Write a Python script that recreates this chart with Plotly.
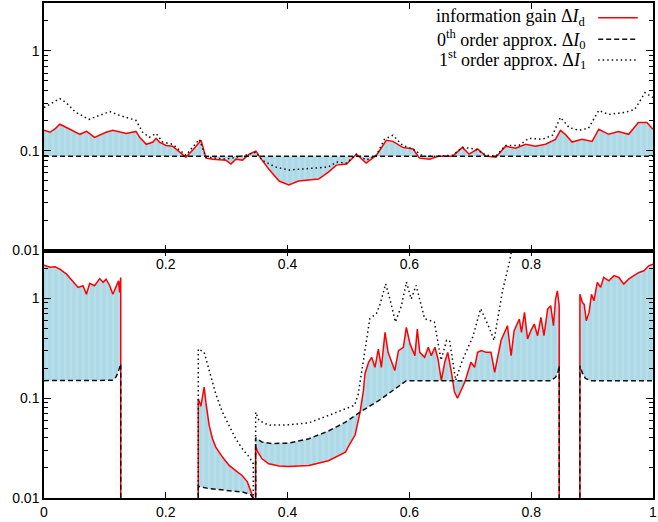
import plotly.graph_objects as go

# ---------------- data ----------------
FLOOR = 1e-4  # value treated as zero (drops below log axis)

# top panel
top_red_x = [0, 0.0098, 0.018, 0.026, 0.0425, 0.059, 0.070, 0.083, 0.102, 0.113, 0.135,
             0.151, 0.157, 0.168, 0.179, 0.184, 0.1895, 0.2005, 0.211, 0.233, 0.244,
             0.258, 0.266, 0.277, 0.2985, 0.307, 0.315, 0.326, 0.337, 0.348, 0.358,
             0.369, 0.386, 0.402, 0.418, 0.435, 0.451, 0.467, 0.480, 0.497, 0.513,
             0.529, 0.546, 0.562, 0.573, 0.589, 0.606, 0.6165, 0.633, 0.649, 0.671,
             0.687, 0.698, 0.712, 0.7255, 0.742, 0.758, 0.7745, 0.791, 0.807, 0.8235,
             0.840, 0.848, 0.856, 0.867, 0.8835, 0.900, 0.911, 0.927, 0.943, 0.96,
             0.976, 0.99, 1.0]
top_red_y = [0.160, 0.153, 0.165, 0.184, 0.164, 0.146, 0.156, 0.136, 0.153, 0.160, 0.149,
             0.156, 0.136, 0.116, 0.122, 0.133, 0.122, 0.113, 0.111, 0.0862, 0.101,
             0.127, 0.0842, 0.0823, 0.0804, 0.0734, 0.0823, 0.0804, 0.0923, 0.0989, 0.0804,
             0.0655, 0.0497, 0.0454, 0.0497, 0.0508, 0.0520, 0.0611, 0.0717, 0.0734, 0.0923,
             0.0751, 0.0902, 0.127, 0.124, 0.108, 0.104, 0.0842, 0.0823, 0.0882, 0.0882,
             0.108, 0.0923, 0.104, 0.0882, 0.0862, 0.111, 0.106, 0.116, 0.111, 0.116,
             0.130, 0.160, 0.146, 0.122, 0.130, 0.124, 0.164, 0.146, 0.156, 0.146,
             0.192, 0.192, 0.164]
top_dot_x = [0, 0.026, 0.036, 0.0523, 0.074, 0.0915, 0.108, 0.124, 0.146, 0.151,
             0.162, 0.173, 0.184, 0.195, 0.211, 0.233, 0.255, 0.266, 0.2985, 0.309,
             0.331, 0.348, 0.358, 0.380, 0.402, 0.429, 0.467, 0.480, 0.497, 0.513,
             0.529, 0.546, 0.559, 0.573, 0.589, 0.606, 0.622, 0.644, 0.671, 0.687,
             0.709, 0.7255, 0.742, 0.758, 0.780, 0.796, 0.818, 0.835, 0.848, 0.862,
             0.878, 0.894, 0.911, 0.927, 0.954, 0.970, 0.987, 1.0]
top_dot_y = [0.271, 0.333, 0.304, 0.242, 0.206, 0.226, 0.247, 0.226, 0.206, 0.201,
             0.153, 0.136, 0.149, 0.122, 0.116, 0.0902, 0.130, 0.0862, 0.0823, 0.0842,
             0.0902, 0.0966, 0.0804, 0.0686, 0.0640, 0.0655, 0.0686, 0.0769, 0.0751, 0.0923,
             0.0804, 0.0902, 0.130, 0.143, 0.113, 0.104, 0.0882, 0.0882, 0.0902, 0.108,
             0.104, 0.0902, 0.0882, 0.113, 0.113, 0.133, 0.130, 0.143, 0.216, 0.171,
             0.160, 0.168, 0.253, 0.231, 0.242, 0.259, 0.382, 0.340]
top_dash_x = [0, 1]
top_dash_y = [0.088, 0.088]

# bottom panel, segment A
bA_red_x = [0, 0.0098, 0.018, 0.026, 0.037, 0.048, 0.056, 0.064, 0.0697, 0.075, 0.083,
            0.0915, 0.097, 0.102, 0.108, 0.113, 0.119, 0.1225, 0.124, 0.126, 0.126]
bA_red_y = [2.15, 2.05, 2.08, 1.96, 1.75, 1.47, 1.29, 1.34, 1.10, 1.42, 1.34,
            1.58, 1.45, 1.56, 1.34, 1.10, 1.34, 1.50, 1.15, 1.62, FLOOR]
bA_dash_x = [0, 0.112, 0.116, 0.119, 0.1225, 0.126, 0.126]
bA_dash_y = [0.150, 0.151, 0.156, 0.166, 0.189, 0.22, FLOOR]

# segment B
bB_red_x = [0.2533, 0.2533, 0.2576, 0.263, 0.2658, 0.2712, 0.2767, 0.2821, 0.293,
            0.304, 0.3148, 0.3257, 0.3339, 0.3393, 0.3437, 0.3437]
bB_red_y = [FLOOR, 0.0985, 0.0832, 0.129, 0.0912, 0.0533, 0.0392, 0.0324, 0.0257,
            0.0212, 0.0188, 0.0167, 0.0145, 0.0119, 0.0100, FLOOR]
bB_dash_x = [0.2533, 0.2533, 0.2712, 0.304, 0.3257, 0.3393, 0.3437, 0.3437]
bB_dash_y = [FLOOR, 0.0131, 0.0124, 0.0119, 0.0115, 0.0108, 0.0099, FLOOR]
bB_dot_x = [0.2533, 0.2533, 0.263, 0.2712, 0.2821, 0.293, 0.304, 0.3148, 0.3257,
            0.337, 0.3437, 0.3437]
bB_dot_y = [FLOOR, 0.311, 0.288, 0.19, 0.11, 0.0724, 0.0533, 0.0392, 0.0311,
            0.0257, 0.022, FLOOR]

# segment C
bC_red_x = [0.3475, 0.3475, 0.350, 0.358, 0.369, 0.386, 0.402, 0.435, 0.467, 0.495,
            0.500, 0.511, 0.519, 0.5245, 0.527, 0.533, 0.538, 0.5435, 0.549, 0.554,
            0.560, 0.565, 0.576, 0.582, 0.590, 0.595, 0.601, 0.609, 0.613, 0.617,
            0.625, 0.631, 0.636, 0.642, 0.647, 0.6525, 0.658, 0.663, 0.669, 0.674,
            0.679, 0.685, 0.691, 0.696, 0.701, 0.707, 0.712, 0.718, 0.726, 0.734,
            0.740, 0.7505, 0.756, 0.761, 0.767, 0.772, 0.7805, 0.784, 0.789, 0.794,
            0.7995, 0.805, 0.8105, 0.816, 0.821, 0.827, 0.832, 0.8365, 0.840, 0.843,
            0.846, 0.846]
bC_red_y = [FLOOR, 0.0336, 0.0296, 0.0247, 0.022, 0.0209, 0.0207, 0.0212, 0.0236, 0.0288,
            0.0330, 0.0430, 0.0724, 0.119, 0.175, 0.229, 0.257, 0.204, 0.311, 0.204,
            0.457, 0.288, 0.189, 0.300, 0.324, 0.513, 0.35, 0.267, 0.493, 0.288,
            0.257, 0.324, 0.267, 0.324, 0.246, 0.150, 0.229, 0.288, 0.182, 0.115,
            0.100, 0.119, 0.145, 0.182, 0.229, 0.204, 0.288, 0.300, 0.288, 0.288,
            0.182, 0.378, 0.457, 0.533, 0.267, 0.475, 0.621, 0.457, 0.724, 0.393,
            0.475, 0.553, 0.423, 0.646, 0.423, 0.782, 0.845, 0.533, 0.985, 1.19,
            0.845, FLOOR]
bC_dash_x = [0.3475, 0.3475, 0.358, 0.375, 0.402, 0.435, 0.467, 0.495, 0.522, 0.554,
             0.595, 0.832, 0.840, 0.844, 0.846, 0.846]
bC_dash_y = [FLOOR, 0.0401, 0.0363, 0.0351, 0.0355, 0.0392, 0.0469, 0.0575, 0.0745, 0.0985,
             0.150, 0.150, 0.162, 0.182, 0.212, FLOOR]
bC_dot_x = [0.3475, 0.3475, 0.353, 0.369, 0.402, 0.435, 0.467, 0.495, 0.510, 0.516,
            0.524, 0.535, 0.546, 0.552, 0.561, 0.568, 0.577, 0.587, 0.595, 0.603,
            0.611, 0.625, 0.641, 0.652, 0.661, 0.666, 0.676, 0.6825, 0.687, 0.704,
            0.717, 0.731, 0.739, 0.753, 0.7636, 0.775]
bC_dot_y = [FLOOR, 0.0724, 0.0598, 0.0537, 0.0541, 0.0567, 0.0671, 0.079, 0.085, 0.11,
            0.24, 0.626, 0.708, 0.877, 1.40, 0.985, 0.58, 0.845, 1.46, 0.985,
            1.35, 0.626, 0.58, 0.24, 0.38, 0.378, 0.151, 0.196, 0.24, 0.41,
            0.79, 0.51, 0.38, 1.2, 2.22, 5.0]

# segment D
bD_red_x = [0.880, 0.880, 0.884, 0.887, 0.8905, 0.895, 0.899, 0.903, 0.9085, 0.914,
            0.919, 0.9275, 0.936, 0.944, 0.952, 0.960, 0.9685, 0.977, 0.985, 0.993, 1.0]
bD_red_y = [FLOOR, 1.10, 0.912, 0.87, 0.598, 0.724, 1.10, 0.947, 1.45, 1.29,
            1.62, 1.50, 1.69, 1.62, 1.39, 1.56, 1.69, 1.82, 1.89, 2.12, 2.20]
bD_dash_x = [0.880, 0.880, 0.884, 0.889, 0.897, 1.0]
bD_dash_y = [FLOOR, 0.212, 0.179, 0.158, 0.150, 0.150]

x_tickvals_bottom = [0, 0.2, 0.4, 0.6, 0.8, 1]
x_ticktext_bottom = ["0", "0.2", "0.4", "0.6", "0.8", "1"]
x_tickvals_top = [0.2, 0.4, 0.6, 0.8]
x_ticktext_top = ["0.2", "0.4", "0.6", "0.8"]
y_tickvals = [0.01, 0.1, 1]
y_ticktext = ["0.01", "0.1", "1"]
y_minor = [0.02, 0.03, 0.04, 0.05, 0.06, 0.07, 0.08, 0.09,
           0.2, 0.3, 0.4, 0.5, 0.6, 0.7, 0.8, 0.9, 2, 3]

legend_labels = ["information gain Δ<i>I</i><sub>d</sub>",
                 "0<sup>th</sup> order approx. Δ<i>I</i><sub>0</sub>",
                 "1<sup>st</sup> order approx. Δ<i>I</i><sub>1</sub>"]

# ---------------- styles ----------------
RED = dict(color="#ff0000", width=1.5)
DASH = dict(color="#111111", width=1.5, dash="5px,3px")
DOT = dict(color="#111111", width=1.5, dash="1.5px,3px")
PATTERN = dict(shape="|", bgcolor="#add8e6", fgcolor="#c3e3ed", size=6, solidity=0.4)

fig = go.Figure()


def add_fill(xr, yr, xd, yd, xa, ya):
    fig.add_trace(go.Scatter(x=list(xr) + list(xd)[::-1], y=list(yr) + list(yd)[::-1],
                             fill="toself", mode="none", fillcolor="#add8e6",
                             fillpattern=PATTERN, hoverinfo="skip", showlegend=False,
                             xaxis=xa, yaxis=ya))


def add_line(x, y, line, xa, ya):
    fig.add_trace(go.Scatter(x=x, y=y, mode="lines", line=line, hoverinfo="skip",
                             showlegend=False, xaxis=xa, yaxis=ya))


# fills
add_fill(top_red_x, top_red_y, top_dash_x, top_dash_y, "x2", "y2")
for xr, yr, xd, yd in [(bA_red_x, bA_red_y, bA_dash_x, bA_dash_y),
                       (bB_red_x, bB_red_y, bB_dash_x, bB_dash_y),
                       (bC_red_x, bC_red_y, bC_dash_x, bC_dash_y),
                       (bD_red_x, bD_red_y, bD_dash_x, bD_dash_y)]:
    add_fill(xr, yr, xd, yd, "x", "y")

# lines: red, dashed, dotted
add_line(top_red_x, top_red_y, RED, "x2", "y2")
add_line(top_dash_x, top_dash_y, DASH, "x2", "y2")
add_line(top_dot_x, top_dot_y, DOT, "x2", "y2")
for xr, yr in [(bA_red_x, bA_red_y), (bB_red_x, bB_red_y), (bC_red_x, bC_red_y), (bD_red_x, bD_red_y)]:
    add_line(xr, yr, RED, "x", "y")
for xd, yd in [(bA_dash_x, bA_dash_y), (bB_dash_x, bB_dash_y), (bC_dash_x, bC_dash_y), (bD_dash_x, bD_dash_y)]:
    add_line(xd, yd, DASH, "x", "y")
for xo, yo in [(bB_dot_x, bB_dot_y), (bC_dot_x, bC_dot_y)]:
    add_line(xo, yo, DOT, "x", "y")

tickfont = dict(family="Liberation Sans, Arial, sans-serif", size=14, color="black")
common_x = dict(range=[0, 1], tickmode="array", ticks="inside",
                ticklen=6, tickwidth=1, tickcolor="black", showline=True, linecolor="black",
                linewidth=1.5, mirror="allticks", showgrid=False, zeroline=False,
                tickfont=tickfont, ticklabeloverflow="allow")
common_y = dict(type="log", range=[-2, 0.48], tickmode="array", tickvals=y_tickvals,
                ticktext=y_ticktext, ticks="inside", ticklen=7, tickwidth=1, tickcolor="black",
                showline=True, linecolor="black", linewidth=1.5, mirror="allticks",
                showgrid=False, zeroline=False, tickfont=tickfont,
                minor=dict(tickmode="array", tickvals=y_minor, ticks="inside", ticklen=4,
                           tickwidth=1, tickcolor="black", showgrid=False))

fig.update_layout(
    width=658, height=522,
    margin=dict(l=44, r=1, t=1, b=24),
    paper_bgcolor="white", plot_bgcolor="white",
    showlegend=False,
    xaxis=dict(anchor="y", tickvals=x_tickvals_bottom, ticktext=x_ticktext_bottom, **common_x),
    yaxis=dict(anchor="x", domain=[0, 0.5], **common_y),
    xaxis2=dict(anchor="y2", tickvals=x_tickvals_top, ticktext=x_ticktext_top, matches="x",
                **common_x),
    yaxis2=dict(anchor="x2", domain=[0.5, 1], **common_y),
)

# legend (text on the left, line sample on the right, gnuplot style)
leg_y = [0.970, 0.927, 0.885]
leg_styles = [RED, DASH, DOT]
for lab, yy, st in zip(legend_labels, leg_y, leg_styles):
    fig.add_annotation(xref="paper", yref="paper", x=0.894, y=yy, text=lab, showarrow=False,
                       xanchor="right", yanchor="middle",
                       font=dict(family="Liberation Serif, Times New Roman, serif", size=18,
                                 color="black"))
    fig.add_shape(type="line", xref="paper", yref="paper", x0=0.91, x1=0.975, y0=yy, y1=yy,
                  line=st)

fig.write_html("out.html")
